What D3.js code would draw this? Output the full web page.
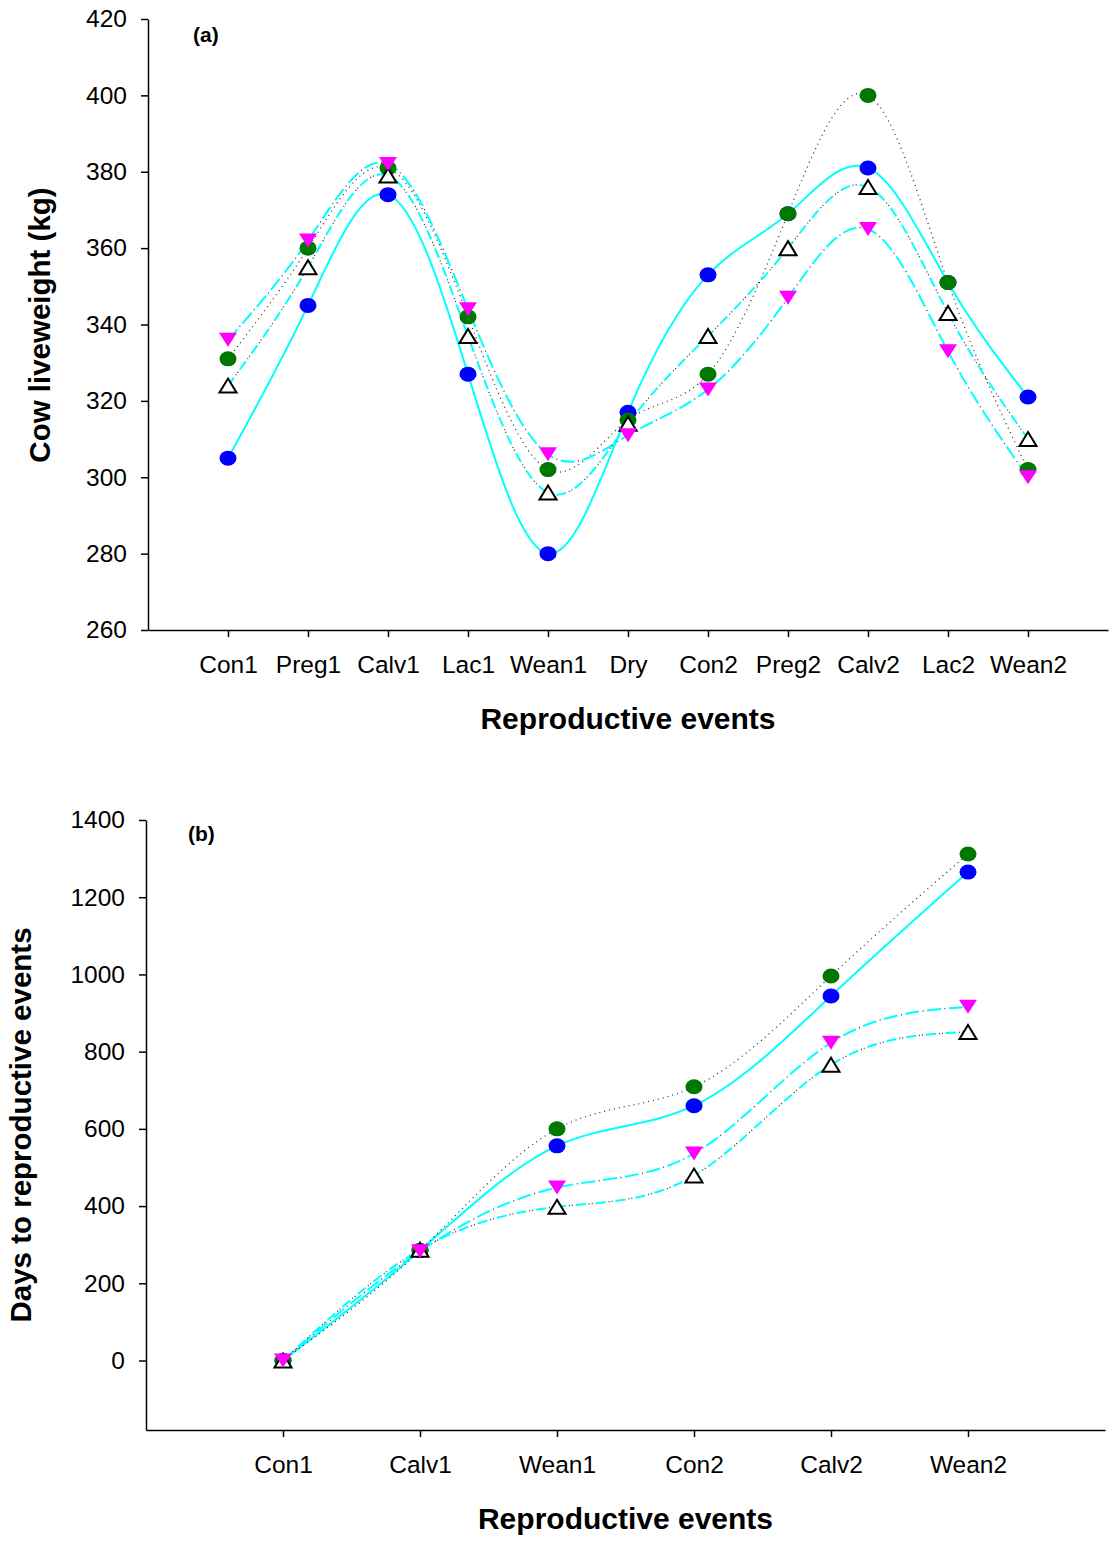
<!DOCTYPE html>
<html>
<head>
<meta charset="utf-8">
<script src="https://cdn.jsdelivr.net/npm/d3@7"></script>
<style>
	body { margin: 0; background: #fff; }
	text { font-family: "Liberation Sans", Arial, sans-serif; }
</style>
</head>
<body>
<svg id="chart" width="1113" height="1552"></svg>
<script>
'use strict';

// panel (a): cow liveweight at each reproductive event
var eventsA = ['Con1', 'Preg1', 'Calv1', 'Lac1', 'Wean1', 'Dry', 'Con2', 'Preg2', 'Calv2', 'Lac2', 'Wean2'];
var blueA    = [305, 345, 374, 327, 280, 317, 353, 369, 381, 351, 321];
var greenA   = [331, 360, 381, 342, 302, 315, 327, 369, 400, 351, 302];
var magentaA = [336, 362, 382, 344, 306, 311, 323, 347, 365, 333, 300];
var openA    = [324, 355, 379, 337, 296, 314, 337, 360, 376, 343, 310];
var ticksA   = [260, 280, 300, 320, 340, 360, 380, 400, 420];

// panel (b): days to reproductive events
var eventsB = ['Con1', 'Calv1', 'Wean1', 'Con2', 'Calv2', 'Wean2'];
var blueB    = [0, 285, 556, 660, 944, 1265];
var greenB   = [0, 285, 600, 709, 996, 1312];
var magentaB = [0, 283, 448, 536, 823, 916];
var openB    = [0, 287, 398, 479, 766, 851];
var ticksB   = [0, 200, 400, 600, 800, 1000, 1200, 1400];

var svg = d3.select('#chart');

var styles = {
	blue:    { lines: [{ stroke: '#00ffff', width: 2, dash: null }] },
	green:   { lines: [{ stroke: '#333', width: 1.3, dash: '1,4' }] },
	magenta: { lines: [{ stroke: '#00ffff', width: 2, dash: '14,8' }, { stroke: '#333', width: 1.3, dash: '0,17.5,1,3.5' }] },
	open:    { lines: [{ stroke: '#00ffff', width: 2, dash: '10,10' }, { stroke: '#333', width: 1.3, dash: '0,13,1,2,1,3' }] }
};

function drawMarker(g, kind) {
	if (kind === 'blue' || kind === 'green') {
		g.append('ellipse')
			.attr('rx', 8.5).attr('ry', 7.5)
			.attr('fill', kind === 'blue' ? '#0000ff' : '#007700');
	} else if (kind === 'magenta') {
		g.append('path').attr('d', 'M-9,-7L9,-7L0,7Z').attr('fill', '#ff00ff');
	} else {
		g.append('path').attr('d', 'M0,-7L8.5,7L-8.5,7Z')
			.attr('fill', '#fff').attr('stroke', '#000').attr('stroke-width', 2);
	}
}

function styleAxis(a) {
	a.selectAll('path, line').attr('stroke', '#000').attr('stroke-width', 1.5);
	a.selectAll('text').attr('font-size', 24.5).attr('fill', '#000')
		.attr('font-family', '"Liberation Sans", Arial, sans-serif');
}

function panel(opt) {
	var x = d3.scaleLinear().domain([0, opt.events.length + 1]).range([opt.left, opt.right]);
	var y = d3.scaleLinear().domain(opt.yDomain).range([opt.bottom, opt.top]);
	var g = svg.append('g');

	g.append('g')
		.attr('transform', 'translate(0,' + opt.bottom + ')')
		.call(d3.axisBottom(x).tickValues(d3.range(1, opt.events.length + 1))
			.tickFormat(function (d) { return opt.events[d - 1]; })
			.tickSize(7).tickSizeOuter(0).tickPadding(19))
		.call(styleAxis);

	g.append('g')
		.attr('transform', 'translate(' + opt.left + ',0)')
		.call(d3.axisLeft(y).tickValues(opt.ticks).tickFormat(d3.format('d'))
			.tickSize(7).tickSizeOuter(0).tickPadding(14))
		.call(styleAxis);

	var line = d3.line()
		.x(function (d, i) { return x(i + 1); })
		.y(function (d) { return y(d); })
		.curve(d3.curveNatural);

	['blue', 'green', 'magenta', 'open'].forEach(function (k) {
		styles[k].lines.forEach(function (s) {
			g.append('path')
				.attr('d', line(opt.series[k]))
				.attr('fill', 'none')
				.attr('stroke', s.stroke)
				.attr('stroke-width', s.width)
				.attr('stroke-dasharray', s.dash);
		});
	});

	['blue', 'green', 'open', 'magenta'].forEach(function (k) {
		g.selectAll('.m-' + k).data(opt.series[k]).enter().append('g')
			.attr('class', 'm-' + k)
			.attr('transform', function (d, i) { return 'translate(' + x(i + 1) + ',' + y(d) + ')'; })
			.each(function () { drawMarker(d3.select(this), k); });
	});

	g.append('text')
		.attr('x', opt.labelX).attr('y', opt.labelY)
		.attr('font-size', 21).attr('font-weight', 'bold')
		.text(opt.label);

	g.append('text')
		.attr('x', (opt.left + opt.right) / 2).attr('y', opt.bottom + 99)
		.attr('text-anchor', 'middle')
		.attr('font-size', 30).attr('font-weight', 'bold')
		.text('Reproductive events');

	g.append('text')
		.attr('transform', 'translate(' + opt.yTitleX + ',' + opt.yTitleY + ') rotate(-90)')
		.attr('text-anchor', 'middle')
		.attr('font-size', 29.5).attr('font-weight', 'bold')
		.text(opt.yTitle);
}

panel({
	events: eventsA,
	series: { blue: blueA, green: greenA, magenta: magentaA, open: openA },
	ticks: ticksA,
	yDomain: [260, 420],
	left: 148, right: 1108, top: 19, bottom: 630,
	label: '(a)', labelX: 193, labelY: 42,
	yTitle: 'Cow liveweight (kg)', yTitleX: 50, yTitleY: 325
});

panel({
	events: eventsB,
	series: { blue: blueB, green: greenB, magenta: magentaB, open: openB },
	ticks: ticksB,
	yDomain: [-180, 1400],
	left: 146, right: 1105, top: 820, bottom: 1430,
	label: '(b)', labelX: 188, labelY: 841,
	yTitle: 'Days to reproductive events', yTitleX: 31, yTitleY: 1125
});
</script>
</body>
</html>
